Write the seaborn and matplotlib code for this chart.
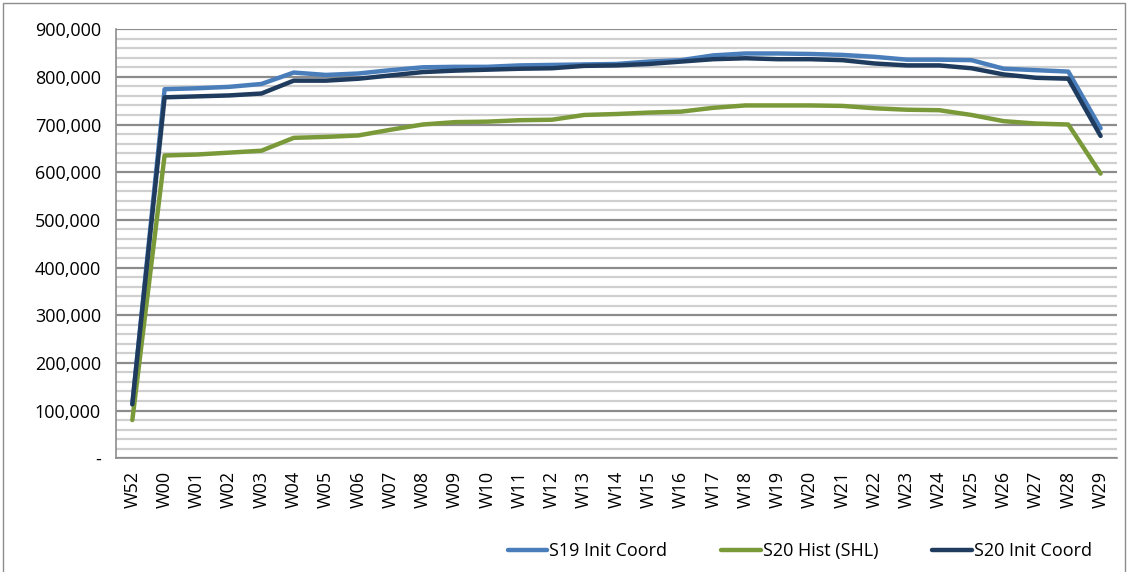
import pandas as pd
import matplotlib
matplotlib.use("Agg")
import matplotlib.pyplot as plt
import seaborn as sns
from matplotlib.ticker import MultipleLocator, FixedLocator, FuncFormatter
from matplotlib.patches import Rectangle

# Week labels
weeks = ["W52"] + ["W%02d" % i for i in range(30)]

# Series values
s19_init = [113000, 774000, 776000, 779000, 785000, 809000, 804000, 807000, 814000, 820000,
            821000, 821000, 824000, 825000, 826000, 827000, 832000, 835000, 845000, 849000,
            849000, 848000, 846000, 842000, 836000, 836000, 835000, 817000, 814000, 811000, 692000]
s20_hist = [80000, 635000, 637000, 641000, 645000, 672000, 674000, 677000, 689000, 700000,
            705000, 706000, 709000, 710000, 720000, 722000, 725000, 727000, 735000, 740000,
            740000, 740000, 739000, 734000, 731000, 730000, 720000, 707000, 702000, 700000, 597000]
s20_init = [113000, 757000, 759000, 761000, 765000, 792000, 792000, 796000, 803000, 810000,
            813000, 815000, 817000, 818000, 823000, 824000, 827000, 832000, 837000, 839000,
            837000, 837000, 835000, 828000, 824000, 824000, 818000, 805000, 798000, 796000, 676000]

series_names = ["S19 Init Coord", "S20 Hist (SHL)", "S20 Init Coord"]
colors = ["#4a7ebb", "#7a9a3a", "#1f3b5e"]

# Long form table for seaborn
rows = []
for name, vals in zip(series_names, [s19_init, s20_hist, s20_init]):
    for i, v in enumerate(vals):
        rows.append({"pos": i, "week": weeks[i], "value": v, "series": name})
df = pd.DataFrame(rows)

sns.set_style("white")
plt.rcParams["font.family"] = ["Open Sans", "DejaVu Sans"]
plt.rcParams["text.color"] = "black"
plt.rcParams["xtick.labelcolor"] = "black"
plt.rcParams["ytick.labelcolor"] = "black"
fs = 13

fig = plt.figure(figsize=(11.28, 5.72), dpi=100)
ax = fig.add_axes([0.103, 0.199, 0.887, 0.75])

sns.lineplot(data=df, x="pos", y="value", hue="series", hue_order=series_names,
             palette=colors, linewidth=3.2, ax=ax, legend=False, sort=False)

# y axis
ax.set_ylim(0, 900000)
ax.yaxis.set_major_locator(MultipleLocator(100000))
ax.yaxis.set_minor_locator(MultipleLocator(20000))
ax.yaxis.set_major_formatter(FuncFormatter(lambda v, p: "-" if v == 0 else f"{int(v):,}"))
ax.grid(axis="y", which="minor", color="#cfcfcf", linewidth=1.6, zorder=0)
ax.grid(axis="y", which="major", color="#8c8c8c", linewidth=1.6, zorder=0)
ax.set_axisbelow(True)

# x axis
ax.set_xlim(-0.5, len(weeks) - 0.5)
ax.xaxis.set_major_locator(FixedLocator(range(len(weeks))))
ax.set_xticklabels(weeks, rotation=90)
ax.xaxis.set_minor_locator(FixedLocator([i - 0.5 for i in range(len(weeks) + 1)]))
ax.tick_params(axis="x", which="major", length=0, pad=9, labelsize=fs, labelcolor="black")
ax.tick_params(axis="x", which="minor", length=6, width=1.2, color="#8c8c8c", direction="out")
ax.tick_params(axis="y", which="major", length=6, width=1.2, color="#8c8c8c", direction="out",
               labelsize=fs, pad=5, labelcolor="black")
ax.tick_params(axis="y", which="minor", length=0)
ax.set_xlabel("")
ax.set_ylabel("")

for side in ["top", "right"]:
    ax.spines[side].set_visible(False)
for side in ["left", "bottom"]:
    ax.spines[side].set_color("#8c8c8c")
    ax.spines[side].set_linewidth(1.2)

# Legend
handles = [plt.Line2D([], [], color=c, linewidth=3.2) for c in colors]
fig.legend(handles, series_names, loc="center", bbox_to_anchor=(0.709, 0.037), ncol=3,
           frameon=False, fontsize=fs, handlelength=2.2, handletextpad=0.1,
           columnspacing=3.0, labelcolor="black")

# Outer chart border
fig.patches.append(Rectangle((0.003, -0.01), 0.994, 1.005, transform=fig.transFigure,
                             fill=False, edgecolor="#8c8c8c", linewidth=1.0))

fig.savefig("out.png", dpi=100)
